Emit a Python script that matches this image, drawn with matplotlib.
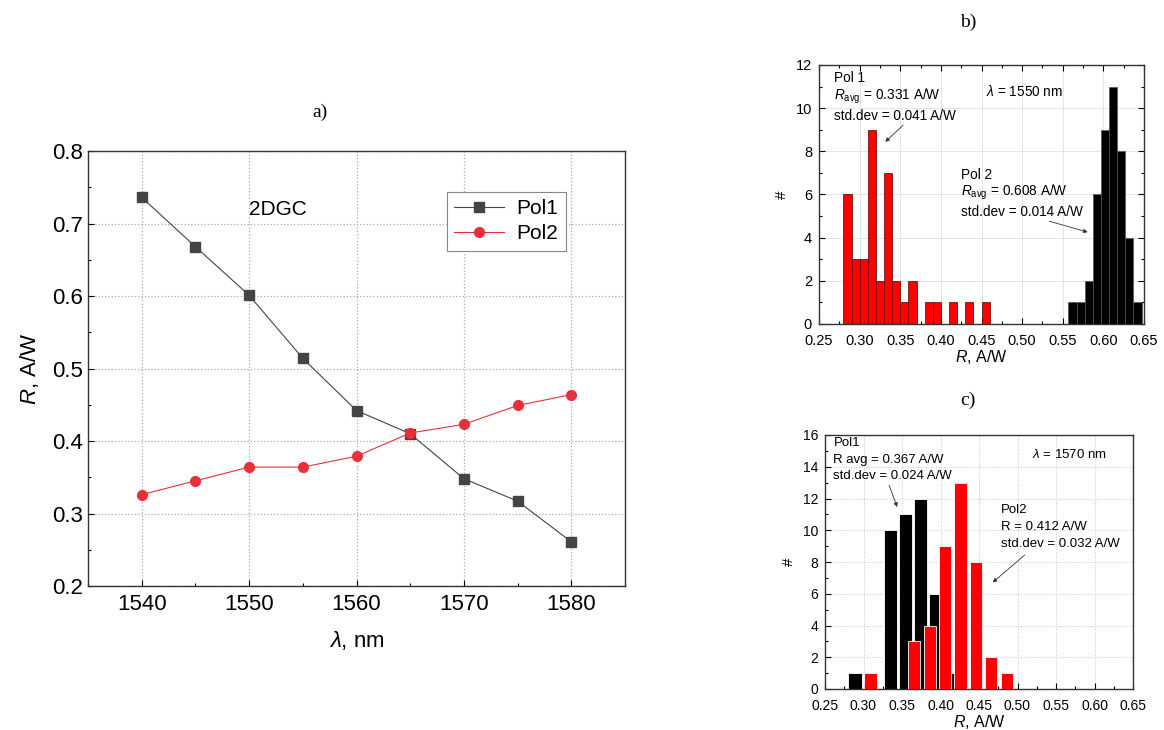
import matplotlib
matplotlib.use("Agg")
import numpy as np
from matplotlib import pyplot as plt
from matplotlib.ticker import MultipleLocator

plt.rcParams["font.family"] = ["Liberation Sans", "DejaVu Sans"]
plt.rcParams["mathtext.fontset"] = "custom"
plt.rcParams["mathtext.rm"] = "Liberation Sans"
plt.rcParams["mathtext.it"] = "Liberation Sans:italic"

# a) responsivity vs wavelength
wavelength = [1540, 1545, 1550, 1555, 1560, 1565, 1570, 1575, 1580]
pol1 = [0.736, 0.668, 0.601, 0.514, 0.442, 0.410, 0.348, 0.317, 0.261]
pol2 = [0.326, 0.345, 0.364, 0.364, 0.379, 0.411, 0.423, 0.449, 0.464]

# b) histogram at 1550 nm (bin centres, counts)
b_pol1_r = [0.285, 0.295, 0.305, 0.315, 0.325, 0.335, 0.345, 0.355, 0.365,
            0.385, 0.395, 0.415, 0.435, 0.455]
b_pol1_n = [6, 3, 3, 9, 2, 7, 2, 1, 2, 1, 1, 1, 1, 1]
b_pol2_r = [0.562, 0.572, 0.582, 0.592, 0.602, 0.612, 0.622, 0.632, 0.642]
b_pol2_n = [1, 1, 2, 6, 9, 11, 8, 4, 1]

# c) histogram at 1570 nm
c_pol1_r = [0.289, 0.335, 0.354, 0.374, 0.394, 0.414]
c_pol1_n = [1, 10, 11, 12, 6, 1]
c_pol2_r = [0.309, 0.366, 0.386, 0.406, 0.426, 0.446, 0.466, 0.486]
c_pol2_n = [1, 3, 4, 9, 13, 8, 2, 1]

W, H = 1164, 730
fig = plt.figure(figsize=(W / 100, H / 100), dpi=100)


def box(l, t, r, b):
    return [l / W, 1 - b / H, (r - l) / W, (b - t) / H]


def style(ax, fs):
    ax.tick_params(which="both", direction="in", labelsize=fs, width=0.8)
    ax.tick_params(which="major", length=4)
    ax.tick_params(which="minor", length=2.5)
    for s in ax.spines.values():
        s.set_linewidth(1.0)
        s.set_color("#333333")


# ---- a)
ax = fig.add_axes(box(88, 151, 625, 586))
ax.plot(wavelength, pol1, "-s", color="#444444", lw=0.8, ms=6.5,
        mfc="#444444", mec="#444444", label="Pol1", zorder=3)
ax.plot(wavelength, pol2, "-o", color="#e8303a", lw=0.8, ms=7,
        mfc="#e8303a", mec="#e8303a", label="Pol2", zorder=3)
ax.set_xlim(1535, 1585)
ax.set_ylim(0.2, 0.8)
ax.xaxis.set_major_locator(MultipleLocator(10))
ax.xaxis.set_minor_locator(MultipleLocator(5))
ax.yaxis.set_major_locator(MultipleLocator(0.1))
ax.yaxis.set_minor_locator(MultipleLocator(0.05))
ax.grid(True, which="major", ls=":", color="#aaaaaa", lw=0.9)
style(ax, 16)
ax.tick_params(axis="x", pad=6)
ax.set_xlabel(r"$\it{\lambda}$, nm", fontsize=16, labelpad=10)
ax.set_ylabel(r"$\it{R}$, A/W", fontsize=16, labelpad=8)
ax.text(1550, 0.719, "2DGC", fontsize=15, ha="left", va="center")
leg = ax.legend(loc="upper left", bbox_to_anchor=(0.668, 0.906), fontsize=15,
                fancybox=False, framealpha=1, edgecolor="#888888",
                handlelength=2.4, borderpad=0.35, labelspacing=0.3,
                handletextpad=0.6, borderaxespad=0)
leg.get_frame().set_linewidth(0.8)
fig.text(320 / W, 1 - 112 / H, "a)", fontsize=14, family="Liberation Serif",
         ha="center", va="center")

# ---- b)
ax = fig.add_axes(box(819, 65, 1144, 324))
ax.bar(b_pol1_r, b_pol1_n, width=0.01, color="#ff0000", edgecolor="#550000",
       lw=0.5, zorder=2)
ax.bar(b_pol2_r, b_pol2_n, width=0.01, color="#000000", edgecolor="#555555",
       lw=0.5, zorder=2)
ax.set_xlim(0.25, 0.65)
ax.set_ylim(0, 12)
ax.xaxis.set_major_locator(MultipleLocator(0.05))
ax.xaxis.set_minor_locator(MultipleLocator(0.025))
ax.yaxis.set_major_locator(MultipleLocator(2))
ax.yaxis.set_minor_locator(MultipleLocator(1))
ax.xaxis.set_major_formatter(lambda v, p: f"{v:.2f}")
ax.grid(True, which="major", color="#e0e0e0", lw=0.6, zorder=0)
ax.tick_params(top=True, right=True, which="both")
style(ax, 10.5)
ax.tick_params(axis="x", pad=7)
ax.tick_params(axis="y", pad=5)
ax.set_xlabel(r"$\it{R}$, A/W", fontsize=11.5, labelpad=0)
ax.set_ylabel("#", fontsize=11, labelpad=5)
ax.text(0.268, 11.4, "Pol 1", fontsize=9.8, va="center")
ax.text(0.268, 10.55, r"$\it{R}_{\mathrm{avg}}$ = 0.331 A/W", fontsize=9.8, va="center")
ax.text(0.268, 9.65, "std.dev = 0.041 A/W", fontsize=9.8, va="center")
ax.annotate("", xy=(0.329, 8.35), xytext=(0.356, 9.3),
            arrowprops=dict(arrowstyle="-|>", color="#333333", lw=0.6,
                            mutation_scale=6))
ax.text(0.456, 10.75, r"$\it{\lambda}$ = 1550 nm", fontsize=9.8, va="center")
ax.text(0.425, 6.9, "Pol 2", fontsize=9.8, va="center")
ax.text(0.425, 6.1, r"$\it{R}_{\mathrm{avg}}$ = 0.608 A/W", fontsize=9.8, va="center")
ax.text(0.425, 5.2, "std.dev = 0.014 A/W", fontsize=9.8, va="center")
ax.annotate("", xy=(0.584, 4.22), xytext=(0.530, 4.8),
            arrowprops=dict(arrowstyle="-|>", color="#333333", lw=0.6,
                            mutation_scale=6))
fig.text(968 / W, 1 - 22 / H, "b)", fontsize=14, family="Liberation Serif",
         ha="center", va="center")

# ---- c)
ax = fig.add_axes(box(825, 435, 1133, 689))
ax.bar(c_pol1_r, c_pol1_n, width=0.017, color="#000000", edgecolor="white",
       lw=0.6, zorder=2)
ax.bar(c_pol2_r, c_pol2_n, width=0.016, color="#ff0000", edgecolor="white",
       lw=0.6, zorder=3)
ax.set_xlim(0.25, 0.65)
ax.set_ylim(0, 16)
ax.xaxis.set_major_locator(MultipleLocator(0.05))
ax.xaxis.set_minor_locator(MultipleLocator(0.025))
ax.yaxis.set_major_locator(MultipleLocator(2))
ax.yaxis.set_minor_locator(MultipleLocator(1))
ax.xaxis.set_major_formatter(lambda v, p: f"{v:.2f}")
ax.grid(True, which="major", ls=":", color="#c8c8c8", lw=0.7, zorder=0)
style(ax, 10)
ax.tick_params(axis="x", pad=7)
ax.tick_params(axis="y", pad=5)
ax.set_xlabel(r"$\it{R}$, A/W", fontsize=11.5, labelpad=0)
ax.set_ylabel("#", fontsize=11, labelpad=5)
ax.text(0.261, 15.5, "Pol1", fontsize=9.5, va="center")
ax.text(0.261, 14.45, "R avg = 0.367 A/W", fontsize=9.5, va="center")
ax.text(0.261, 13.4, "std.dev = 0.024 A/W", fontsize=9.5, va="center")
ax.annotate("", xy=(0.345, 11.3), xytext=(0.332, 13.0),
            arrowprops=dict(arrowstyle="-|>", color="#333333", lw=0.6,
                            mutation_scale=6))
ax.text(0.519, 14.8, r"$\it{\lambda}$ = 1570 nm", fontsize=9.5, va="center")
ax.text(0.479, 11.25, "Pol2", fontsize=9.5, va="center")
ax.text(0.479, 10.2, "R = 0.412 A/W", fontsize=9.5, va="center")
ax.text(0.479, 9.15, "std.dev = 0.032 A/W", fontsize=9.5, va="center")
ax.annotate("", xy=(0.465, 6.6), xytext=(0.512, 8.55),
            arrowprops=dict(arrowstyle="-|>", color="#333333", lw=0.6,
                            mutation_scale=6))
fig.text(968 / W, 1 - 400 / H, "c)", fontsize=14, family="Liberation Serif",
         ha="center", va="center")

fig.savefig("out.png", dpi=100)
